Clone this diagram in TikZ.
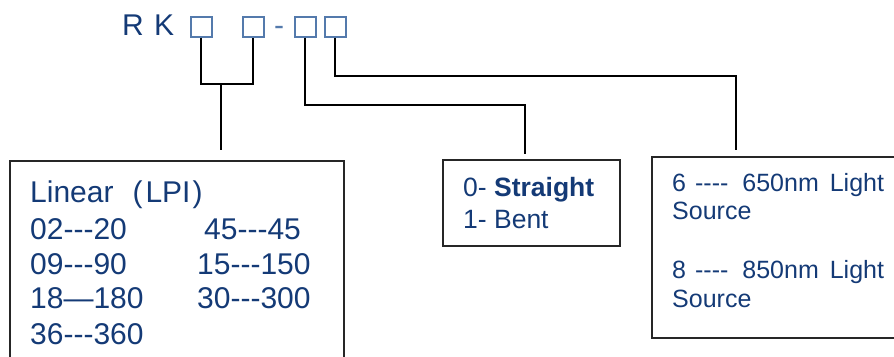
\documentclass[tikz,border=0pt]{standalone}
\usepackage{fontspec}
\setmainfont{Liberation Sans}[Ligatures=TeXOff]
\definecolor{txt}{RGB}{20,58,118}
\definecolor{sq}{RGB}{84,122,172}
\begin{document}
\begin{tikzpicture}[x=1pt,y=-1pt,
  sqbox/.style={draw=sq, line width=1.5pt, minimum width=21pt, minimum height=20pt, inner sep=0pt, anchor=north west},
  frame/.style={draw=black!85, line width=2pt, anchor=north west, inner sep=0pt},
  conn/.style={draw=black, line width=2pt},
  lbl/.style={text=txt, anchor=base west, inner sep=0pt},
  big/.style={font=\fontsize{30pt}{34pt}\selectfont},
  mid/.style={font=\fontsize{26.5pt}{30pt}\selectfont},
  sml/.style={font=\fontsize{25pt}{28pt}\selectfont}
]
\useasboundingbox (0,0) rectangle (894,356);
% code line
\node[lbl, big] (rk) at (122,35) {R\hspace{2pt} K};
\node[sqbox] (s1) at (190,16) {};
\node[sqbox] (s2) at (242,16) {};
\node[lbl, big, text=sq] (dash) at (274,35) {-};
\node[sqbox] (s3) at (294,16) {};
\node[sqbox] (s4) at (324,16) {};
% boxes
\node[frame, minimum width=334pt, minimum height=250pt] (lin) at (9,160) {};
\node[frame, minimum width=177pt, minimum height=86pt] (bend) at (442,159) {};
\node[frame, minimum width=300pt, minimum height=181pt] (src) at (651,156) {};
% left box text
\node[lbl, big] (t0) at (30,202) {Linear\hspace{19pt}(\hspace{3pt}LPI\hspace{2pt})};
\node[lbl, big] (t1) at (30,239) {02---20};
\node[lbl, big] (t2) at (30,274) {09---90};
\node[lbl, big] (t3) at (30,308) {18—180};
\node[lbl, big] (t4) at (30,344) {36---360};
\node[lbl, big] (t5) at (204,239) {45---45};
\node[lbl, big] (t6) at (197,274) {15---150};
\node[lbl, big] (t7) at (197,308) {30---300};
% middle box text
\node[lbl, mid] (m0) at (463,196) {0- \textbf{Straight}};
\node[lbl, mid] (m1) at (463,228) {1- Bent};
% right box text
\node[lbl, sml] (r0) at (672,191) {6\hspace{9pt}----\hspace{14pt}650nm\hspace{11pt}Light};
\node[lbl, sml] (r1) at (672,219) {Source};
\node[lbl, sml] (r2) at (672,278) {8\hspace{9pt}----\hspace{14pt}850nm\hspace{11pt}Light};
\node[lbl, sml] (r3) at (672,307) {Source};
% connectors
\coordinate (j1) at (221,84);
\coordinate (e1) at (221,150);
\coordinate (b3) at (525,105);
\coordinate (e3) at (525,154);
\coordinate (b4) at (736,76);
\coordinate (e4) at (736,150);
\draw[conn] (s1.south) |- (j1) -| (s2.south);
\draw[conn] (j1) -- (e1);
\draw[conn] (s3.south) |- (b3) -- (e3);
\draw[conn] (s4.south) |- (b4) -- (e4);
\end{tikzpicture}
\end{document}
